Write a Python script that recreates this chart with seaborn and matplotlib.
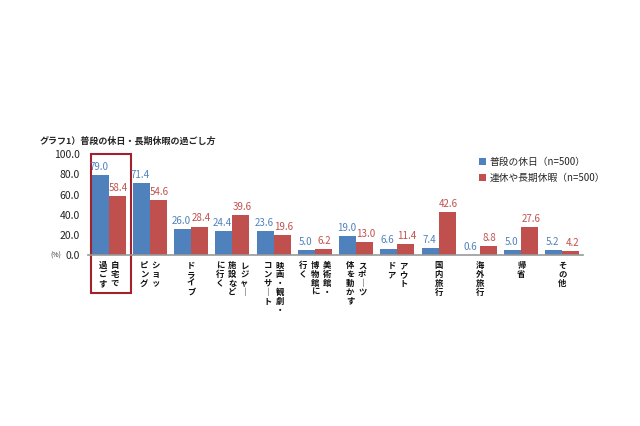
import numpy as np
import matplotlib
matplotlib.use('Agg')
import matplotlib.pyplot as plt
import matplotlib.transforms as mtransforms
from matplotlib.patches import Rectangle
import seaborn as sns
import pandas as pd

# データ
categories = ['自宅で過ごす', 'ショッピング', 'ドライブ', 'レジャー施設などに行く',
              '映画・観劇・コンサート', '美術館・博物館に行く', 'スポーツ体を動かす',
              'アウトドア', '国内旅行', '海外旅行', '帰省', 'その他']
# 縦書きラベル（右の列から順に）
label_cols = [['自宅で', '過ごす'], ['ショッ', 'ピング'], ['ドライブ'],
              ['レジャー', '施設など', 'に行く'], ['映画・観劇・', 'コンサート'],
              ['美術館・', '博物館に', '行く'], ['スポーツ', '体を動かす'],
              ['アウト', 'ドア'], ['国内旅行'], ['海外旅行'], ['帰省'], ['その他']]
series = ['普段の休日（n=500）', '連休や長期休暇（n=500）']
normal_days = [79.0, 71.4, 26.0, 24.4, 23.6, 5.0, 19.0, 6.6, 7.4, 0.6, 5.0, 5.2]
long_holidays = [58.4, 54.6, 28.4, 39.6, 19.6, 6.2, 13.0, 11.4, 42.6, 8.8, 27.6, 4.2]
y_ticks = [0, 20, 40, 60, 80, 100]

df = pd.DataFrame({
    'cat': categories * 2,
    'val': normal_days + long_holidays,
    'series': [series[0]] * 12 + [series[1]] * 12,
})

sns.set_style('white')
plt.rcParams['font.family'] = ['Noto Sans CJK JP', 'DejaVu Sans']

blue = '#4F81BD'
red = '#C0504D'

fig = plt.figure(figsize=(6.4, 4.26), dpi=100)
ax = fig.add_axes([0.1375, 0.401, 0.7735, 0.237])

sns.barplot(data=df, x='cat', y='val', hue='series', palette=[blue, red],
            width=0.82, ax=ax, legend=True, saturation=1, linewidth=0)

# データラベル（少しずらして重なりを避ける）
for cont, col, dx in zip(ax.containers, [blue, red], [-0.03, 0.03]):
    for bar in cont:
        h = bar.get_height()
        ax.text(bar.get_x() + bar.get_width() / 2 + dx, h + 3, f'{h:.1f}',
                ha='center', va='bottom', fontsize=7, color=col)

ax.set_ylim(0, 100)
ax.set_xlim(-0.5, 11.5)
ax.set_yticks(y_ticks)
ax.set_yticklabels([f'{v:.1f}' for v in y_ticks], fontsize=7.5, color='#222222')
ax.set_xlabel('')
ax.set_ylabel('')
ax.set_xticks(range(12))
ax.set_xticklabels([])
ax.tick_params(axis='x', which='major', length=0)
ax.set_xticks(np.arange(-0.5, 12, 1), minor=True)
ax.tick_params(axis='x', which='minor', length=4, color='#999999', width=1, direction='out')
ax.tick_params(axis='y', length=0, pad=6)
for s in ['top', 'right', 'left']:
    ax.spines[s].set_visible(False)
ax.spines['bottom'].set_color('#999999')
ax.spines['bottom'].set_linewidth(1.2)

# 縦書きカテゴリラベル
trans = mtransforms.blended_transform_factory(ax.transData, ax.transAxes)
col_step = 0.29
for i, cols in enumerate(label_cols):
    n = len(cols)
    for j, txt in enumerate(cols):
        x = i + ((n - 1) / 2 - j) * col_step
        vtxt = '\n'.join(txt.replace('ー', '｜'))
        ax.text(x, -0.06, vtxt, transform=trans, ha='center', va='top',
                fontsize=6, linespacing=0.98, color='#111111', fontweight='bold')

# 強調枠
ax.add_patch(Rectangle((-0.42, -0.376), 0.97, 1.376, transform=trans, fill=False,
                       edgecolor='#A3202E', linewidth=1.5, clip_on=False))

fig.text(50 / 640, 1 - 256 / 426, '(%)', fontsize=5, va='center', color='#333333')
fig.text(40 / 640, 1 - 141 / 426, 'グラフ1）普段の休日・長期休暇の過ごし方',
         fontsize=6.5, fontweight='bold', va='center')

handles, labels = ax.get_legend_handles_labels()
ax.legend(handles, labels, loc='upper left', bbox_to_anchor=(470 / 640, 1 - 148 / 426),
          bbox_transform=fig.transFigure, frameon=False, fontsize=7,
          handlelength=0.7, handleheight=0.7, handletextpad=0.4, labelspacing=0.6)

plt.savefig('out.png', dpi=100)
plt.close()
